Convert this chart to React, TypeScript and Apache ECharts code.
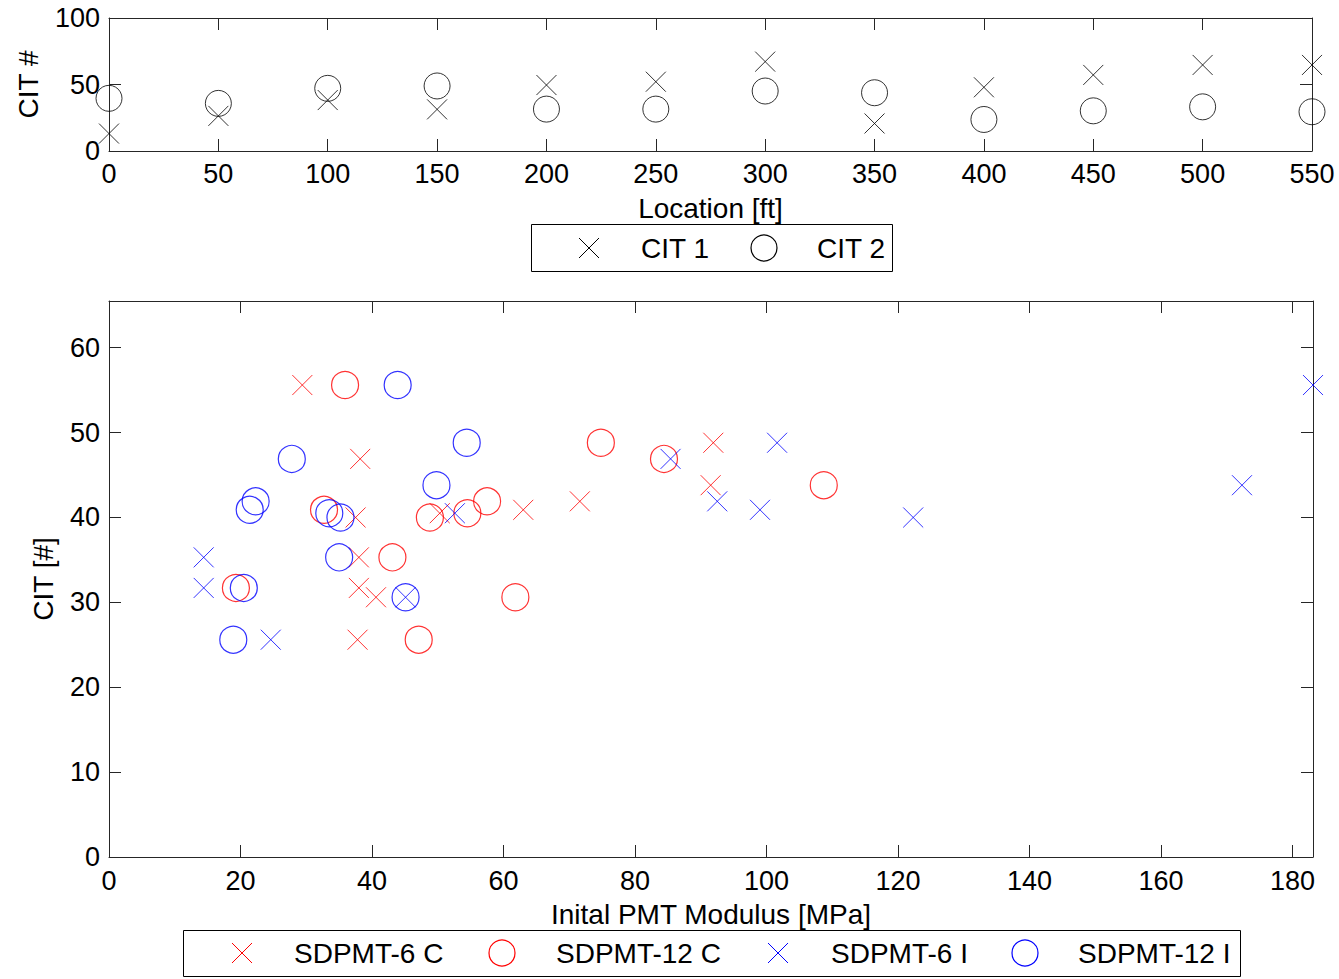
import React, { useEffect, useRef } from "react";
import * as echarts from "echarts";

// ---- Top chart: CIT along the location ----
const locations = [0, 50, 100, 150, 200, 250, 300, 350, 400, 450, 500, 550];
const cit1 = [13.1, 26.4, 38.3, 31.3, 49.6, 52.1, 67.2, 20.7, 47.9, 57.2, 64.7, 64.7];
const cit2 = [39.6, 35.8, 47.1, 48.9, 31.5, 31.5, 45.1, 43.8, 23.7, 30.2, 33.2, 29.5];

// ---- Bottom chart: CIT vs initial PMT modulus ----
const sd6cModulus = [29.4, 38.2, 37.5, 38.0, 38.0, 40.6, 37.8, 50.3, 63.0, 71.6, 91.9, 91.5];
const sd6cCit = [55.6, 46.9, 40.0, 35.3, 31.7, 30.6, 25.6, 40.5, 40.9, 41.9, 48.8, 43.8];

const sd12cModulus = [35.9, 32.7, 43.1, 19.3, 61.8, 47.1, 48.8, 54.5, 57.5, 74.8, 84.4, 108.7];
const sd12cCit = [55.6, 40.9, 35.3, 31.7, 30.6, 25.6, 40.0, 40.5, 41.9, 48.8, 46.9, 43.8];

const sd6iModulus = [14.4, 14.4, 24.6, 45.1, 52.6, 85.4, 101.6, 92.5, 99.0, 122.3, 172.3, 183.1];
const sd6iCit = [35.3, 31.7, 25.6, 30.6, 40.5, 46.9, 48.8, 41.9, 40.9, 40.0, 43.8, 55.6];

const sd12iModulus = [43.9, 54.4, 27.8, 49.8, 22.3, 21.4, 33.5, 35.2, 35.0, 20.5, 45.1, 18.9];
const sd12iCit = [55.6, 48.8, 46.9, 43.8, 41.9, 40.9, 40.5, 40.0, 35.3, 31.7, 30.6, 25.6];

const topSeriesNames = ["CIT 1", "CIT 2"];
const bottomSeriesNames = ["SDPMT-6 C", "SDPMT-12 C", "SDPMT-6 I", "SDPMT-12 I"];

const topXTicks = { min: 0, max: 550, interval: 50 };
const topYTicks = { min: 0, max: 100, interval: 50 };
const botXTicks = { min: 0, max: 183.1, interval: 20 };
const botYTicks = { min: 0, max: 65.5, interval: 10 };

const FONT = "'Liberation Sans', Arial, Helvetica, sans-serif";
const CROSS = "path://M0,0L20,20M20,0L0,20";
const AXIS_COLOR = "#262626";
const RED = "#ff0000";
const BLUE = "#0000ff";

const zip = (a: number[], b: number[]) => a.map((v, i) => [v, b[i]]);

// legend helpers (graphic elements)
const crossIcon = (cx: number, cy: number, half: number, color: string) => [
  { type: "line", shape: { x1: cx - half, y1: cy - half, x2: cx + half, y2: cy + half }, style: { stroke: color, lineWidth: 1 } },
  { type: "line", shape: { x1: cx - half, y1: cy + half, x2: cx + half, y2: cy - half }, style: { stroke: color, lineWidth: 1 } },
];
const circleIcon = (cx: number, cy: number, r: number, color: string) => ({
  type: "circle",
  shape: { cx, cy, r },
  style: { fill: "none", stroke: color, lineWidth: 1.2 },
});
const legendText = (x: number, y: number, text: string) => ({
  type: "text",
  x,
  y,
  style: { text, fill: "#000", font: `28px ${FONT}`, textVerticalAlign: "middle", verticalAlign: "middle", align: "left" },
});

function App() {
  const ref = useRef<HTMLDivElement>(null);
  useEffect(() => {
    if (!ref.current) return;
    const chart = echarts.init(ref.current, undefined, { renderer: "svg" });

    const axisBase = (t: { min: number; max: number; interval: number }, labelShow: boolean, margin: number) => ({
      type: "value",
      min: t.min,
      max: t.max,
      interval: t.interval,
      splitLine: { show: false },
      axisLine: { show: true, onZero: false, lineStyle: { color: AXIS_COLOR, width: 1 } },
      axisTick: { show: true, inside: true, length: 12, lineStyle: { color: AXIS_COLOR, width: 1 } },
      axisLabel: {
        show: labelShow,
        margin,
        color: "#000",
        fontSize: 27,
        fontFamily: FONT,
        formatter: (v: number) => (Math.abs(v / t.interval - Math.round(v / t.interval)) < 1e-6 ? String(v) : ""),
      },
    });

    const nameStyle = { color: "#000", fontSize: 28, fontFamily: FONT };

    const topLegendY = 248;
    const botLegendY = 953;

    const option: any = {
      animation: false,
      backgroundColor: "#fff",
      textStyle: { fontFamily: FONT },
      grid: [
        { left: 109, top: 18, width: 1203, height: 133 },
        { left: 109, top: 301, width: 1204, height: 556 },
      ],
      xAxis: [
        {
          ...axisBase(topXTicks, true, 9),
          gridIndex: 0,
          position: "bottom",
          name: "Location [ft]",
          nameLocation: "middle",
          nameGap: 43,
          nameTextStyle: nameStyle,
        },
        { ...axisBase(topXTicks, false, 9), gridIndex: 0, position: "top" },
        {
          ...axisBase(botXTicks, true, 10),
          gridIndex: 1,
          position: "bottom",
          name: "Inital PMT Modulus [MPa]",
          nameLocation: "middle",
          nameGap: 43,
          nameTextStyle: nameStyle,
        },
        { ...axisBase(botXTicks, false, 10), gridIndex: 1, position: "top" },
      ],
      yAxis: [
        {
          ...axisBase(topYTicks, true, 9),
          gridIndex: 0,
          position: "left",
          name: "CIT #",
          nameLocation: "middle",
          nameGap: 67,
          nameTextStyle: nameStyle,
        },
        { ...axisBase(topYTicks, false, 9), gridIndex: 0, position: "right" },
        {
          ...axisBase(botYTicks, true, 9),
          gridIndex: 1,
          position: "left",
          name: "CIT [#]",
          nameLocation: "middle",
          nameGap: 52,
          nameTextStyle: nameStyle,
        },
        { ...axisBase(botYTicks, false, 9), gridIndex: 1, position: "right" },
      ],
      graphic: [
        // top legend
        { type: "rect", shape: { x: 531.5, y: 224.5, width: 361, height: 47 }, style: { fill: "#fff", stroke: "#000", lineWidth: 1 } },
        ...crossIcon(589, topLegendY, 10, "#000"),
        legendText(641, topLegendY, topSeriesNames[0]),
        circleIcon(764, topLegendY, 13, "#000"),
        legendText(817, topLegendY, topSeriesNames[1]),
        // bottom legend
        { type: "rect", shape: { x: 183.5, y: 930.5, width: 1057, height: 46 }, style: { fill: "#fff", stroke: "#000", lineWidth: 1 } },
        ...crossIcon(242, botLegendY, 10, RED),
        legendText(294, botLegendY, bottomSeriesNames[0]),
        circleIcon(502, botLegendY, 13, RED),
        legendText(556, botLegendY, bottomSeriesNames[1]),
        ...crossIcon(778, botLegendY, 10, BLUE),
        legendText(831, botLegendY, bottomSeriesNames[2]),
        circleIcon(1025, botLegendY, 13, BLUE),
        legendText(1078, botLegendY, bottomSeriesNames[3]),
      ],
      series: [
        {
          name: topSeriesNames[0],
          type: "scatter",
          xAxisIndex: 0,
          yAxisIndex: 0,
          symbol: CROSS,
          symbolSize: 20,
          itemStyle: { color: "none", borderColor: "#000", borderWidth: 1 },
          data: zip(locations, cit1),
        },
        {
          name: topSeriesNames[1],
          type: "scatter",
          xAxisIndex: 0,
          yAxisIndex: 0,
          symbol: "circle",
          symbolSize: 26,
          itemStyle: { color: "none", borderColor: "#000", borderWidth: 1 },
          data: zip(locations, cit2),
        },
        {
          name: bottomSeriesNames[0],
          type: "scatter",
          xAxisIndex: 2,
          yAxisIndex: 2,
          symbol: CROSS,
          symbolSize: 20,
          itemStyle: { color: "none", borderColor: RED, borderWidth: 1 },
          data: zip(sd6cModulus, sd6cCit),
        },
        {
          name: bottomSeriesNames[1],
          type: "scatter",
          xAxisIndex: 2,
          yAxisIndex: 2,
          symbol: "circle",
          symbolSize: 27,
          itemStyle: { color: "none", borderColor: RED, borderWidth: 1.2 },
          data: zip(sd12cModulus, sd12cCit),
        },
        {
          name: bottomSeriesNames[2],
          type: "scatter",
          xAxisIndex: 2,
          yAxisIndex: 2,
          symbol: CROSS,
          symbolSize: 20,
          itemStyle: { color: "none", borderColor: BLUE, borderWidth: 1 },
          data: zip(sd6iModulus, sd6iCit),
        },
        {
          name: bottomSeriesNames[3],
          type: "scatter",
          xAxisIndex: 2,
          yAxisIndex: 2,
          symbol: "circle",
          symbolSize: 27,
          itemStyle: { color: "none", borderColor: BLUE, borderWidth: 1.2 },
          data: zip(sd12iModulus, sd12iCit),
        },
      ],
    };

    chart.setOption(option);
    return () => chart.dispose();
  }, []);

  return (
    <div
      ref={ref}
      style={{ position: "absolute", left: 0, top: 0, width: 1339, height: 979, background: "#fff" }}
    />
  );
}

export default App;
